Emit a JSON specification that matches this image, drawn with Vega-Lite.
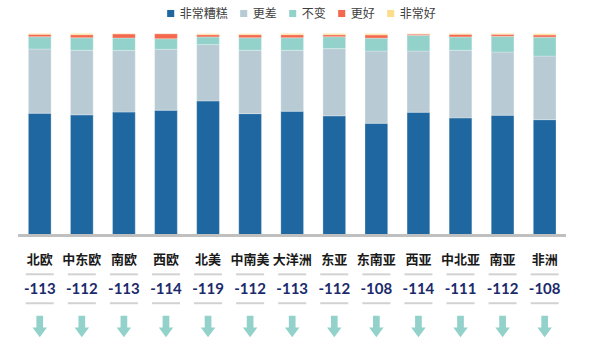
{
  "$schema": "https://vega.github.io/schema/vega-lite/v6.json",
  "width": 547,
  "height": 323,
  "autosize": {"type": "none"},
  "padding": {"left": 18.7, "top": 33.5, "right": 34.3, "bottom": 0},
  "background": "white",
  "config": {"view": {"stroke": null}, "font": "Noto Sans CJK SC"},
  "datasets": {
    "bars": [
      {"region": "北欧", "cat": "非常糟糕", "k": 1, "value": 60.5},
      {"region": "北欧", "cat": "更差", "k": 2, "value": 31.8},
      {"region": "北欧", "cat": "不变", "k": 3, "value": 6.1},
      {"region": "北欧", "cat": "更好", "k": 4, "value": 1.2},
      {"region": "北欧", "cat": "非常好", "k": 5, "value": 0.4},
      {"region": "中东欧", "cat": "非常糟糕", "k": 1, "value": 59.7},
      {"region": "中东欧", "cat": "更差", "k": 2, "value": 32.0},
      {"region": "中东欧", "cat": "不变", "k": 3, "value": 6.2},
      {"region": "中东欧", "cat": "更好", "k": 4, "value": 1.5},
      {"region": "中东欧", "cat": "非常好", "k": 5, "value": 0.6},
      {"region": "南欧", "cat": "非常糟糕", "k": 1, "value": 61.1},
      {"region": "南欧", "cat": "更差", "k": 2, "value": 30.5},
      {"region": "南欧", "cat": "不变", "k": 3, "value": 6.2},
      {"region": "南欧", "cat": "更好", "k": 4, "value": 2.0},
      {"region": "南欧", "cat": "非常好", "k": 5, "value": 0.2},
      {"region": "西欧", "cat": "非常糟糕", "k": 1, "value": 62.0},
      {"region": "西欧", "cat": "更差", "k": 2, "value": 30.2},
      {"region": "西欧", "cat": "不变", "k": 3, "value": 5.2},
      {"region": "西欧", "cat": "更好", "k": 4, "value": 2.5},
      {"region": "西欧", "cat": "非常好", "k": 5, "value": 0.1},
      {"region": "北美", "cat": "非常糟糕", "k": 1, "value": 66.6},
      {"region": "北美", "cat": "更差", "k": 2, "value": 27.9},
      {"region": "北美", "cat": "不变", "k": 3, "value": 3.8},
      {"region": "北美", "cat": "更好", "k": 4, "value": 1.1},
      {"region": "北美", "cat": "非常好", "k": 5, "value": 0.5},
      {"region": "中南美", "cat": "非常糟糕", "k": 1, "value": 60.3},
      {"region": "中南美", "cat": "更差", "k": 2, "value": 31.4},
      {"region": "中南美", "cat": "不变", "k": 3, "value": 6.2},
      {"region": "中南美", "cat": "更好", "k": 4, "value": 1.5},
      {"region": "中南美", "cat": "非常好", "k": 5, "value": 0.5},
      {"region": "大洋洲", "cat": "非常糟糕", "k": 1, "value": 61.5},
      {"region": "大洋洲", "cat": "更差", "k": 2, "value": 30.2},
      {"region": "大洋洲", "cat": "不变", "k": 3, "value": 6.2},
      {"region": "大洋洲", "cat": "更好", "k": 4, "value": 1.5},
      {"region": "大洋洲", "cat": "非常好", "k": 5, "value": 0.6},
      {"region": "东亚", "cat": "非常糟糕", "k": 1, "value": 59.2},
      {"region": "东亚", "cat": "更差", "k": 2, "value": 33.3},
      {"region": "东亚", "cat": "不变", "k": 3, "value": 5.9},
      {"region": "东亚", "cat": "更好", "k": 4, "value": 1.0},
      {"region": "东亚", "cat": "非常好", "k": 5, "value": 0.6},
      {"region": "东南亚", "cat": "非常糟糕", "k": 1, "value": 55.5},
      {"region": "东南亚", "cat": "更差", "k": 2, "value": 35.8},
      {"region": "东南亚", "cat": "不变", "k": 3, "value": 6.4},
      {"region": "东南亚", "cat": "更好", "k": 4, "value": 1.6},
      {"region": "东南亚", "cat": "非常好", "k": 5, "value": 0.6},
      {"region": "西亚", "cat": "非常糟糕", "k": 1, "value": 61.0},
      {"region": "西亚", "cat": "更差", "k": 2, "value": 30.3},
      {"region": "西亚", "cat": "不变", "k": 3, "value": 7.8},
      {"region": "西亚", "cat": "更好", "k": 4, "value": 0.6},
      {"region": "西亚", "cat": "非常好", "k": 5, "value": 0.2},
      {"region": "中北亚", "cat": "非常糟糕", "k": 1, "value": 58.2},
      {"region": "中北亚", "cat": "更差", "k": 2, "value": 33.5},
      {"region": "中北亚", "cat": "不变", "k": 3, "value": 6.6},
      {"region": "中北亚", "cat": "更好", "k": 4, "value": 1.3},
      {"region": "中北亚", "cat": "非常好", "k": 5, "value": 0.4},
      {"region": "南亚", "cat": "非常糟糕", "k": 1, "value": 59.5},
      {"region": "南亚", "cat": "更差", "k": 2, "value": 31.3},
      {"region": "南亚", "cat": "不变", "k": 3, "value": 7.8},
      {"region": "南亚", "cat": "更好", "k": 4, "value": 1.0},
      {"region": "南亚", "cat": "非常好", "k": 5, "value": 0.4},
      {"region": "非洲", "cat": "非常糟糕", "k": 1, "value": 57.3},
      {"region": "非洲", "cat": "更差", "k": 2, "value": 31.5},
      {"region": "非洲", "cat": "不变", "k": 3, "value": 9.4},
      {"region": "非洲", "cat": "更好", "k": 4, "value": 1.1},
      {"region": "非洲", "cat": "非常好", "k": 5, "value": 0.6}
    ],
    "regions": [
      {"region": "北欧", "score": -113},
      {"region": "中东欧", "score": -112},
      {"region": "南欧", "score": -113},
      {"region": "西欧", "score": -114},
      {"region": "北美", "score": -119},
      {"region": "中南美", "score": -112},
      {"region": "大洋洲", "score": -113},
      {"region": "东亚", "score": -112},
      {"region": "东南亚", "score": -108},
      {"region": "西亚", "score": -114},
      {"region": "中北亚", "score": -111},
      {"region": "南亚", "score": -112},
      {"region": "非洲", "score": -108}
    ]
  },
  "encoding": {
    "x": {
      "field": "region",
      "type": "nominal",
      "axis": null,
      "scale": {
        "domain": ["北欧", "中东欧", "南欧", "西欧", "北美", "中南美", "大洋洲", "东亚", "东南亚", "西亚", "中北亚", "南亚", "非洲"],
        "paddingInner": 0.46,
        "paddingOuter": 0.23
      }
    }
  },
  "layer": [
    {
      "data": {"name": "bars"},
      "mark": {"type": "bar", "stroke": "#ffffff", "strokeOpacity": 0.35, "strokeWidth": 0.8},
      "encoding": {
        "y": {
          "field": "value",
          "type": "quantitative",
          "stack": "zero",
          "axis": null,
          "scale": {"domain": [-60, 100], "nice": false, "zero": false}
        },
        "order": {"field": "k", "type": "quantitative"},
        "color": {
          "field": "cat",
          "type": "nominal",
          "scale": {
            "domain": ["非常糟糕", "更差", "不变", "更好", "非常好"],
            "range": ["#1f67a0", "#b8cbd5", "#93d2ca", "#f4694d", "#fddc8b"]
          },
          "legend": {
            "title": null,
            "orient": "none",
            "direction": "horizontal",
            "legendX": 146,
            "legendY": -26,
            "symbolType": "square",
            "symbolSize": 50,
            "symbolStrokeWidth": 0,
            "labelFontSize": 12,
            "labelColor": "#404040",
            "labelFont": "Noto Sans CJK SC",
            "labelOffset": 3,
            "columnPadding": 9
          }
        }
      }
    },
    {
      "data": {"name": "regions"},
      "mark": {"type": "rule", "color": "#bfbfbf", "strokeWidth": 2},
      "encoding": {"x": null, "y": {"datum": 0, "type": "quantitative"}}
    },
    {
      "data": {"name": "regions"},
      "mark": {"type": "text", "font": "Noto Sans CJK SC", "fontWeight": "bold", "fontSize": 13, "color": "#1a1a1a", "baseline": "middle"},
      "encoding": {"y": {"datum": -12.1, "type": "quantitative"}, "text": {"field": "region"}}
    },
    {
      "data": {"name": "regions"},
      "mark": {"type": "tick", "color": "#bfbfbf", "thickness": 2, "size": 28, "orient": "horizontal"},
      "encoding": {"y": {"datum": -19.3, "type": "quantitative"}}
    },
    {
      "data": {"name": "regions"},
      "mark": {"type": "tick", "color": "#bfbfbf", "thickness": 2, "size": 28, "orient": "horizontal"},
      "encoding": {"y": {"datum": -33.6, "type": "quantitative"}}
    },
    {
      "data": {"name": "regions"},
      "mark": {"type": "text", "font": "Lato", "fontWeight": "bold", "fontSize": 15, "color": "#1b2a6b", "baseline": "middle"},
      "encoding": {"y": {"datum": -26.6, "type": "quantitative"}, "text": {"field": "score"}}
    },
    {
      "data": {"name": "regions"},
      "mark": {
        "type": "point",
        "filled": true,
        "color": "#93d2ca",
        "opacity": 1,
        "strokeWidth": 0,
        "size": 466,
        "shape": "M-0.31,-1L0.31,-1L0.31,0.11L0.67,0.11L0,1L-0.67,0.11L-0.31,0.11Z"
      },
      "encoding": {"y": {"datum": -45.1, "type": "quantitative"}}
    }
  ]
}
